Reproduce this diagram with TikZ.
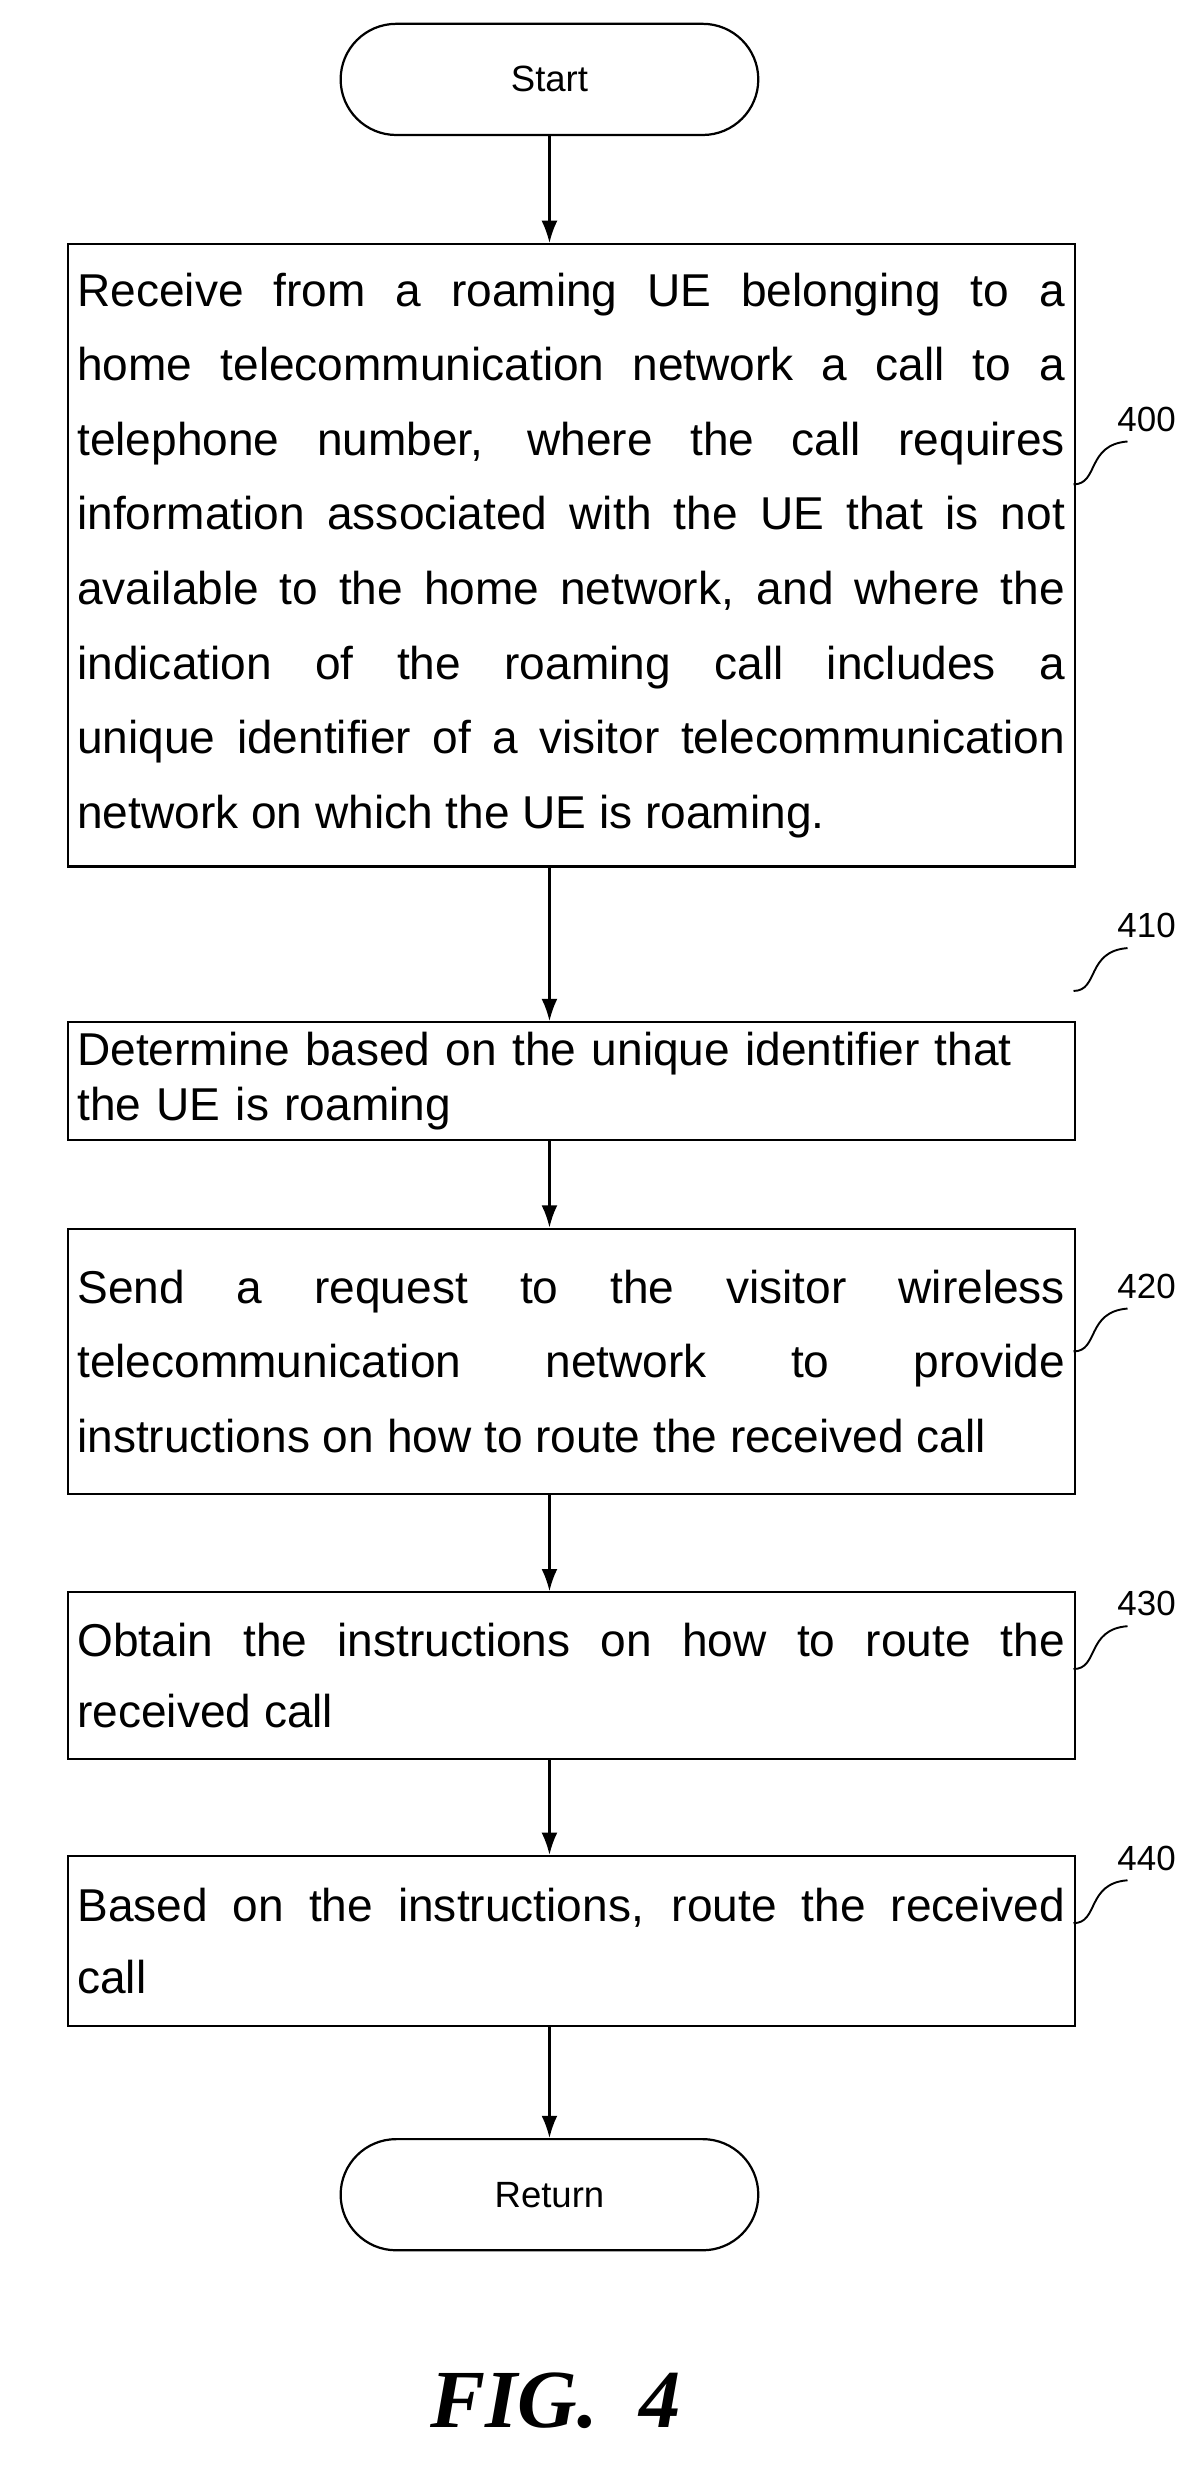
\documentclass[tikz,border=0pt]{standalone}
\usepackage{fontspec}
\usetikzlibrary{arrows.meta}
\setmainfont{Liberation Sans}
\newfontfamily\figfont{Liberation Serif}
\begin{document}
\hyphenpenalty=10000
\begin{tikzpicture}[x=1pt,y=-1pt,
  term/.style={draw,line width=1.4pt,rounded corners=35pt,minimum width=263pt,minimum height=70pt,font=\fontsize{23}{26}\selectfont},
  box/.style={draw,line width=1.4pt,minimum width=634pt,text width=622pt,inner sep=6pt,align=justify,anchor=north west,font=\fontsize{29}{47}\selectfont},
  arr/.style={line width=1.4pt,-{Latex[length=14pt,width=10pt]}},
  sq/.style={line width=1.2pt},
  lbl/.style={font=\fontsize{22}{26}\selectfont}]
\useasboundingbox (0,0) rectangle (750,1556);
\node[term] (start) at (346,50) {Start};
\node[box,minimum height=392pt] (b400) at (42,153) {Receive from a roaming UE belonging to a\linebreak home telecommunication network a call to a\linebreak telephone number, where the call requires\linebreak information associated with the UE that is not\linebreak available to the home network, and where the\linebreak indication of the roaming call includes a\linebreak unique identifier of a visitor telecommunication\linebreak network on which the UE is roaming.};
\node[box,minimum height=69pt,align=left,font=\fontsize{29}{35}\selectfont] (b410) at (42,643) {Determine based on the unique identifier that\\ the UE is roaming};
\node[box,minimum height=167pt] (b420) at (42,773) {Send a request to the visitor wireless\linebreak telecommunication network to provide\linebreak instructions on how to route the received call};
\node[box,minimum height=105pt,font=\fontsize{29}{45}\selectfont] (b430) at (42,1002) {Obtain the instructions on how to route the\linebreak received call};
\node[box,minimum height=107pt,font=\fontsize{29}{45}\selectfont] (b440) at (42,1168) {Based on the instructions, route the received\linebreak call};
\node[term] (ret) at (346,1382) {Return};
\draw[arr] (start.south) -- (start.south |- b400.north);
\draw[arr] (start.south |- b400.south) -- (start.south |- b410.north);
\draw[arr] (start.south |- b410.south) -- (start.south |- b420.north);
\draw[arr] (start.south |- b420.south) -- (start.south |- b430.north);
\draw[arr] (start.south |- b430.south) -- (start.south |- b440.north);
\draw[arr] (start.south |- b440.south) -- (ret.north);
\node[lbl] (l400) at (722,264) {400};
\node[lbl] (l410) at (722,583) {410};
\node[lbl] (l420) at (722,810) {420};
\node[lbl] (l430) at (722,1010) {430};
\node[lbl] (l440) at (722,1170) {440};
\draw[sq] (676,305) .. controls (692,305) and (684,280) .. (710,278);
\draw[sq] (676,624) .. controls (692,624) and (684,599) .. (710,597);
\draw[sq] (676,851) .. controls (692,851) and (684,826) .. (710,824);
\draw[sq] (676,1051) .. controls (692,1051) and (684,1026) .. (710,1024);
\draw[sq] (676,1211) .. controls (692,1211) and (684,1186) .. (710,1184);
\node[font=\figfont\bfseries\itshape\fontsize{52}{56}\selectfont] (fig) at (350,1512) {FIG.~~4};
\end{tikzpicture}
\end{document}
